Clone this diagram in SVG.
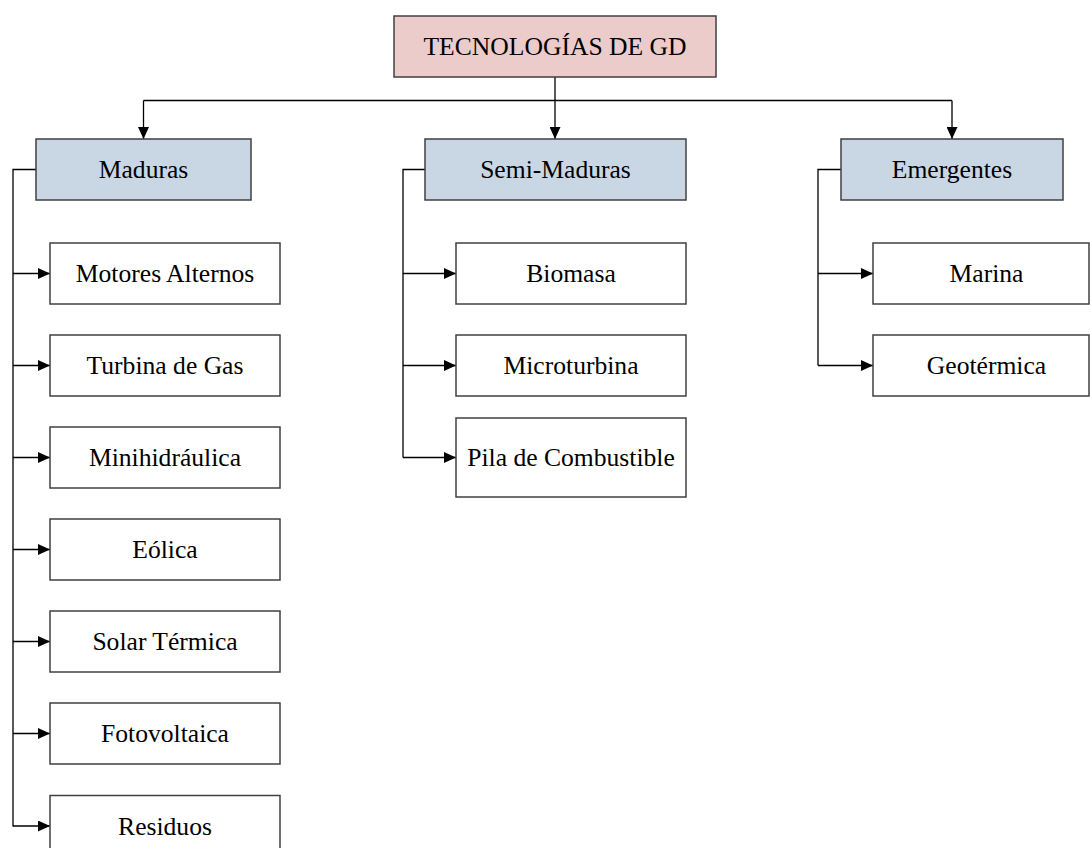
<svg xmlns="http://www.w3.org/2000/svg" width="1091" height="848" viewBox="0 0 1091 848">
<style>
  .box { stroke: #404040; stroke-width: 1.5; }
  .root { fill: #EBCCCB; }
  .cat { fill: #C9D7E5; }
  .leaf { fill: #FFFFFF; }
  .lbl { font-family: "Liberation Serif", "Times New Roman", serif; font-size: 25.6px; fill: #000; text-anchor: middle; }
  .conn { fill: none; stroke: #000; stroke-width: 1.3; }
</style>
<defs>
  <marker id="arr" viewBox="0 0 12 11" refX="12" refY="5.5" markerWidth="12" markerHeight="11" markerUnits="userSpaceOnUse" orient="auto">
    <path d="M0,0 L12,5.5 L0,11 Z" fill="#000"/>
  </marker>
</defs>
<rect width="1091" height="848" fill="#FFFFFF"/>

<g id="connectors">
  <path class="conn" d="M555,77 V139" marker-end="url(#arr)"/>
  <path class="conn" d="M143.5,100.5 H952"/>
  <path class="conn" d="M143.5,100.5 V139" marker-end="url(#arr)"/>
  <path class="conn" d="M952,100.5 V139" marker-end="url(#arr)"/>

  <path class="conn" d="M36,169.5 H13 V826.5"/>
  <path class="conn" d="M13,273.5 H50" marker-end="url(#arr)"/>
  <path class="conn" d="M13,365.5 H50" marker-end="url(#arr)"/>
  <path class="conn" d="M13,457.5 H50" marker-end="url(#arr)"/>
  <path class="conn" d="M13,549.5 H50" marker-end="url(#arr)"/>
  <path class="conn" d="M13,641.5 H50" marker-end="url(#arr)"/>
  <path class="conn" d="M13,733.5 H50" marker-end="url(#arr)"/>
  <path class="conn" d="M13,826 H50" marker-end="url(#arr)"/>

  <path class="conn" d="M425,169.5 H403 V457.5"/>
  <path class="conn" d="M403,273.5 H456" marker-end="url(#arr)"/>
  <path class="conn" d="M403,365.5 H456" marker-end="url(#arr)"/>
  <path class="conn" d="M403,457.5 H456" marker-end="url(#arr)"/>

  <path class="conn" d="M841,169.5 H818 V365.5"/>
  <path class="conn" d="M818,273.5 H873" marker-end="url(#arr)"/>
  <path class="conn" d="M818,365.5 H873" marker-end="url(#arr)"/>
</g>

<g id="root">
  <rect class="box root" x="394" y="16" width="322" height="61"/>
  <text class="lbl" x="555" y="55.1">TECNOLOGÍAS DE GD</text>
</g>

<g id="maduras">
  <rect class="box cat" x="36" y="139" width="215" height="61"/>
  <text class="lbl" x="143.5" y="178.1">Maduras</text>
</g>
<g id="semi-maduras">
  <rect class="box cat" x="425" y="139" width="261" height="61"/>
  <text class="lbl" x="555.5" y="178.1">Semi-Maduras</text>
</g>
<g id="emergentes">
  <rect class="box cat" x="841" y="139" width="222" height="61"/>
  <text class="lbl" x="952" y="178.1">Emergentes</text>
</g>

<g id="motores-alternos">
  <rect class="box leaf" x="50" y="243" width="230" height="61"/>
  <text class="lbl" x="165" y="282.1">Motores Alternos</text>
</g>
<g id="turbina-de-gas">
  <rect class="box leaf" x="50" y="335" width="230" height="61"/>
  <text class="lbl" x="165" y="374.1">Turbina de Gas</text>
</g>
<g id="minihidraulica">
  <rect class="box leaf" x="50" y="427" width="230" height="61"/>
  <text class="lbl" x="165" y="466.1">Minihidráulica</text>
</g>
<g id="eolica">
  <rect class="box leaf" x="50" y="519" width="230" height="61"/>
  <text class="lbl" x="165" y="558.1">Eólica</text>
</g>
<g id="solar-termica">
  <rect class="box leaf" x="50" y="611" width="230" height="61"/>
  <text class="lbl" x="165" y="650.1">Solar Térmica</text>
</g>
<g id="fotovoltaica">
  <rect class="box leaf" x="50" y="703" width="230" height="61"/>
  <text class="lbl" x="165" y="742.1">Fotovoltaica</text>
</g>
<g id="residuos">
  <rect class="box leaf" x="50" y="795.5" width="230" height="61"/>
  <text class="lbl" x="165" y="834.6">Residuos</text>
</g>

<g id="biomasa">
  <rect class="box leaf" x="456" y="243" width="230" height="61"/>
  <text class="lbl" x="571" y="282.1">Biomasa</text>
</g>
<g id="microturbina">
  <rect class="box leaf" x="456" y="335" width="230" height="61"/>
  <text class="lbl" x="571" y="374.1">Microturbina</text>
</g>
<g id="pila-de-combustible">
  <rect class="box leaf" x="456" y="418" width="230" height="79"/>
  <text class="lbl" x="571" y="466.1">Pila de Combustible</text>
</g>

<g id="marina">
  <rect class="box leaf" x="873" y="243" width="216" height="61"/>
  <text class="lbl" x="986.5" y="282.1">Marina</text>
</g>
<g id="geotermica">
  <rect class="box leaf" x="873" y="335" width="216" height="61"/>
  <text class="lbl" x="986.5" y="374.1">Geotérmica</text>
</g>
</svg>
